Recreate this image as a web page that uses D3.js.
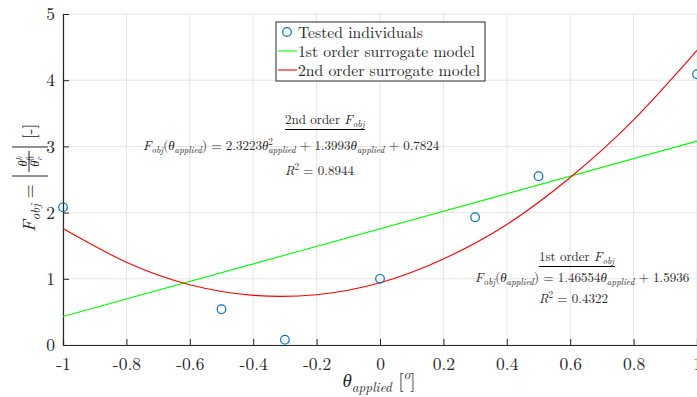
<!DOCTYPE html>
<html>
<head>
<meta charset="utf-8">
<title>Surrogate model fit</title>
<script src="https://cdn.jsdelivr.net/npm/d3@7"></script>
<style>
  body { margin: 0; background: #fff; }
  svg { display: block; font-family: "Latin Modern Roman", "CMU Serif", "Liberation Serif", serif; }
</style>
</head>
<body>
<svg id="chart" width="697" height="397"></svg>
<script>
// tested individuals
const testedX = [-1, -0.5, -0.3, 0, 0.3, 0.5, 1];
const testedY = [2.08, 0.54, 0.08, 1.0, 1.93, 2.55, 4.09];

// 1st order model, as plotted (end points)
const firstX = [-1, 1];
const firstY = [0.43, 3.08];

// 2nd order model
const secondX = [-1, -0.8, -0.6, -0.4, -0.2, 0, 0.2, 0.4, 0.6, 0.8, 1];
const secondY = [1.76, 1.25, 0.91, 0.75, 0.76, 0.94, 1.30, 1.82, 2.53, 3.40, 4.45];

const xTicks = [-1, -0.8, -0.6, -0.4, -0.2, 0, 0.2, 0.4, 0.6, 0.8, 1];
const xTickLabels = ["-1", "-0.8", "-0.6", "-0.4", "-0.2", "0", "0.2", "0.4", "0.6", "0.8", "1"];
const yTicks = [0, 1, 2, 3, 4, 5];
const yTickLabels = ["0", "1", "2", "3", "4", "5"];
const legendLabels = ["Tested individuals", "1st order surrogate model", "2nd order surrogate model"];

const serif = '"Latin Modern Roman", "CMU Serif", "Liberation Serif", serif';
const axisCol = "#262626";
const svg = d3.select("#chart");

const x = d3.scaleLinear().domain([-1, 1]).range([63, 697]);
const y = d3.scaleLinear().domain([0, 5]).range([345, 14]);

// grid
svg.append("g").selectAll("line").data(xTicks).join("line")
  .attr("x1", d => x(d)).attr("x2", d => x(d))
  .attr("y1", y(0)).attr("y2", y(5))
  .attr("stroke", "#e5e5e5").attr("stroke-width", 1);
svg.append("g").selectAll("line").data(yTicks).join("line")
  .attr("x1", x(-1)).attr("x2", x(1))
  .attr("y1", d => y(d)).attr("y2", d => y(d))
  .attr("stroke", "#e5e5e5").attr("stroke-width", 1);

// axes (ticks inside like matlab)
const xAxis = svg.append("g").attr("transform", `translate(0,${y(0)})`)
  .call(d3.axisBottom(x).tickValues(xTicks).tickSize(-6).tickPadding(13)
    .tickFormat((d, i) => xTickLabels[i]));
const yAxis = svg.append("g").attr("transform", `translate(${x(-1)},0)`)
  .call(d3.axisLeft(y).tickValues(yTicks).tickSize(-6).tickPadding(8)
    .tickFormat((d, i) => yTickLabels[i]));
[xAxis, yAxis].forEach(a => {
  a.attr("font-family", serif).attr("font-size", 17.5);
  a.select(".domain").attr("stroke", axisCol).attr("stroke-width", 1.2);
  a.selectAll(".tick line").attr("stroke", axisCol);
  a.selectAll(".tick text").attr("fill", axisCol);
});
xAxis.selectAll(".tick text").attr("dy", "0.71em");

// model lines
const line = d3.line().x(d => x(d[0])).y(d => y(d[1]));
svg.append("path")
  .datum(d3.zip(firstX, firstY))
  .attr("d", line).attr("fill", "none").attr("stroke", "#00ff00").attr("stroke-width", 1.1);
svg.append("path")
  .datum(d3.zip(secondX, secondY))
  .attr("d", line.curve(d3.curveNatural)).attr("fill", "none").attr("stroke", "#ff0000").attr("stroke-width", 1.1);

// tested points
svg.append("g").selectAll("circle").data(d3.zip(testedX, testedY)).join("circle")
  .attr("cx", d => x(d[0])).attr("cy", d => y(d[1])).attr("r", 4.3)
  .attr("fill", "none").attr("stroke", "#0072bd").attr("stroke-width", 1.2);

// rich text: parts are [string, kind, backshift]
function rich(parent, px, py, parts, fs, anchor) {
  const t = parent.append("text").attr("x", px).attr("y", py)
    .attr("font-size", fs).attr("fill", axisCol).attr("text-anchor", anchor || "start");
  let shift = 0;
  parts.forEach(([s, k, back]) => {
    let target = 0, size = fs, ital = false;
    if (k === "i") ital = true;
    if (k === "sub") { target = fs * 0.25; size = fs * 0.7; ital = true; }
    if (k === "sup") { target = -fs * 0.4; size = fs * 0.7; }
    if (k === "supi") { target = -fs * 0.4; size = fs * 0.7; ital = true; }
    const ts = t.append("tspan").text(s).attr("font-size", size)
      .attr("dy", target - shift)
      .attr("font-style", ital ? "italic" : "normal");
    if (back) ts.attr("dx", -back);
    shift = target;
  });
  return t;
}

// legend
const lg = svg.append("g");
lg.append("rect").attr("x", 276).attr("y", 22).attr("width", 209).attr("height", 59)
  .attr("fill", "#fff").attr("stroke", axisCol).attr("stroke-width", 1);
const rowY = [32, 51, 70];
lg.append("circle").attr("cx", 287).attr("cy", rowY[0]).attr("r", 4.3)
  .attr("fill", "none").attr("stroke", "#0072bd").attr("stroke-width", 1.2);
lg.append("line").attr("x1", 278).attr("x2", 297).attr("y1", rowY[1]).attr("y2", rowY[1])
  .attr("stroke", "#00ff00").attr("stroke-width", 1.1);
lg.append("line").attr("x1", 278).attr("x2", 297).attr("y1", rowY[2]).attr("y2", rowY[2])
  .attr("stroke", "#ff0000").attr("stroke-width", 1.1);
legendLabels.forEach((s, i) => {
  lg.append("text").attr("x", 298).attr("y", rowY[i] + 5.5).attr("font-size", 15.7)
    .attr("fill", axisCol).text(s);
});

// annotations
const an = svg.append("g");
const afs = 13;
rich(an, 285, 124, [["2nd order ", "r"], ["F", "i"], ["obj", "sub"]], afs);
an.append("line").attr("x1", 285).attr("x2", 365).attr("y1", 129.5).attr("y2", 129.5)
  .attr("stroke", "#000").attr("stroke-width", 1.2);
rich(an, 143, 150, [["F", "i"], ["obj", "sub"], ["(", "r"], ["θ", "i"], ["applied", "sub"], [") = 2.3223", "r"],
  ["θ", "i"], ["2", "sup"], ["applied", "sub", afs * 0.36], [" + 1.3993", "r"], ["θ", "i"], ["applied", "sub"], [" + 0.7824", "r"]], afs);
rich(an, 285, 175, [["R", "i"], ["2", "sup"], [" = 0.8944", "r"]], afs);

rich(an, 539, 261, [["1st order ", "r"], ["F", "i"], ["obj", "sub"]], afs);
an.append("line").attr("x1", 539).attr("x2", 615).attr("y1", 266.5).attr("y2", 266.5)
  .attr("stroke", "#000").attr("stroke-width", 1.2);
rich(an, 475, 282, [["F", "i"], ["obj", "sub"], ["(", "r"], ["θ", "i"], ["applied", "sub"], [") = 1.46554", "r"],
  ["θ", "i"], ["applied", "sub"], [" + 1.5936", "r"]], afs);
rich(an, 539, 303, [["R", "i"], ["2", "sup"], [" = 0.4322", "r"]], afs);

// x label
rich(svg, 379, 387, [["θ", "i"], ["applied", "sub"], ["  [", "r"], ["o", "supi"], ["]", "r"]], 19, "middle");

// y label, rotated
const yl = svg.append("g").attr("transform", "translate(35,232) rotate(-90)");
rich(yl, 0, 0, [["F", "i"], ["obj", "sub"], [" =", "r"]], 18);
yl.append("line").attr("x1", 56).attr("x2", 56).attr("y1", -23).attr("y2", 13)
  .attr("stroke", axisCol).attr("stroke-width", 1);
yl.append("line").attr("x1", 85).attr("x2", 85).attr("y1", -23).attr("y2", 13)
  .attr("stroke", axisCol).attr("stroke-width", 1);
yl.append("line").attr("x1", 60).attr("x2", 81).attr("y1", -6).attr("y2", -6)
  .attr("stroke", axisCol).attr("stroke-width", 1);
rich(yl, 70.5, -8.5, [["θ", "i"], ["k", "supi"], ["c", "sub", 4.5]], 12.5, "middle");
rich(yl, 70.5, 4, [["θ", "i"], ["0", "sup"], ["c", "sub", 4.5]], 12.5, "middle");
rich(yl, 93, 0, [["[-]", "r"]], 17);
</script>
</body>
</html>
